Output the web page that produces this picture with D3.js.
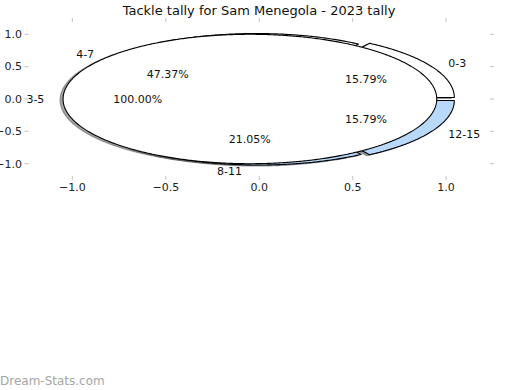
<!DOCTYPE html>
<html><head><meta charset="utf-8">
<script src="https://cdn.jsdelivr.net/npm/d3@7/dist/d3.min.js"></script>
<style>body{margin:0;background:#fff;} svg{display:block;font-family:"DejaVu Sans",sans-serif;}</style>
</head><body>
<svg id="c" width="520" height="390"></svg>
<script>
// ---- data ----
const title = "Tackle tally for Sam Menegola - 2023 tally";
const categories = ["0-3", "4-7", "8-11", "12-15"];
const values = [3, 9, 4, 3];
const explode = [0.05, 0.02, 0.02, 0.05];
const overlayCategories = ["3-5"];
const overlayValues = [1];
const overlayExplode = [0.05];
const xTicks = [-1.0, -0.5, 0.0, 0.5, 1.0];
const yTicks = [-1.0, -0.5, 0.0, 0.5, 1.0];
const watermark = "Dream-Stats.com";

// ---- styles ----
const colors = ["#ffffff", "#ffffff", "#b9d9fb", "#b9d9fb"];
const overlayColors = ["#ffffff"];

const svg = d3.select("#c");
const x = d3.scaleLinear().domain([-1.235, 1.235]).range([28.5, 490]);
const y = d3.scaleLinear().domain([-1.19, 1.19]).range([176, 22]);
const fmt = d3.format(".2f");
const line = d3.line().x(p => x(p[0])).y(p => y(p[1]));
const shadowOff = -0.016;

function buildWedges(cats, vals, expl, cols) {
  const total = d3.sum(vals);
  const arcs = d3.pie().sort(null).startAngle(0).endAngle(2 * Math.PI)(vals);
  return arcs.map((a, i) => {
    const t1 = a.startAngle, t2 = a.endAngle, tm = (t1 + t2) / 2;
    const cx = expl[i] * Math.cos(tm), cy = expl[i] * Math.sin(tm);
    const full = Math.abs(t2 - t1 - 2 * Math.PI) < 1e-9;
    const n = Math.max(4, Math.ceil((t2 - t1) / (Math.PI / 360)));
    const pts = [];
    if (!full) pts.push([cx, cy]);
    for (let k = 0; k <= n; k++) {
      const t = t1 + (t2 - t1) * k / n;
      pts.push([cx + Math.cos(t), cy + Math.sin(t)]);
    }
    if (!full) pts.push([cx, cy]);
    return {label: cats[i], pct: fmt(vals[i] / total * 100) + "%", tm, cx, cy, pts, color: cols[i]};
  });
}

const pie1 = buildWedges(categories, values, explode, colors);
const pie2 = buildWedges(overlayCategories, overlayValues, overlayExplode, overlayColors);
const all = pie1.concat(pie2);

// shadows (drawn below all wedges)
const gShadow = svg.append("g");
all.forEach(w => {
  const c = d3.color(w.color);
  const sc = d3.rgb(c.r * 0.3, c.g * 0.3, c.b * 0.3);
  gShadow.append("path")
    .attr("d", line(w.pts.map(p => [p[0] + shadowOff, p[1] + shadowOff])) + "Z")
    .attr("fill", sc).attr("stroke", sc).attr("stroke-width", 1.1)
    .attr("fill-opacity", 0.5).attr("stroke-opacity", 0.5);
});
// wedges
const gW = svg.append("g");
all.forEach(w => {
  gW.append("path")
    .attr("d", line(w.pts) + "Z")
    .attr("fill", w.color).attr("stroke", "#000").attr("stroke-width", 1.1)
    .attr("stroke-linejoin", "round");
});

// axes ticks (no spines)
const tickCol = "#c8c8c8";
const gA = svg.append("g").attr("font-size", 11).attr("fill", "#222");
xTicks.forEach(v => {
  gA.append("line").attr("x1", x(v)).attr("x2", x(v)).attr("y1", 176).attr("y2", 180).attr("stroke", tickCol).attr("stroke-width", 1.1);
  gA.append("line").attr("x1", x(v)).attr("x2", x(v)).attr("y1", 22).attr("y2", 18).attr("stroke", tickCol).attr("stroke-width", 1.1);
  gA.append("text").attr("x", x(v)).attr("y", 191).attr("text-anchor", "middle")
    .text(d3.format(".1f")(v).replace("-", "\u2212"));
});
yTicks.forEach(v => {
  gA.append("line").attr("x1", 28.5).attr("x2", 24.5).attr("y1", y(v)).attr("y2", y(v)).attr("stroke", tickCol).attr("stroke-width", 1.1);
  gA.append("line").attr("x1", 490).attr("x2", 494).attr("y1", y(v)).attr("y2", y(v)).attr("stroke", tickCol).attr("stroke-width", 1.1);
  gA.append("text").attr("x", 22).attr("y", y(v)).attr("dy", "0.35em").attr("text-anchor", "end")
    .text(d3.format(".1f")(v).replace("-", "\u2212"));
});

// labels
const gT = svg.append("g").attr("font-size", 11).attr("fill", "#111");
all.forEach(w => {
  const lx = w.cx + 1.1 * Math.cos(w.tm), ly = w.cy + 1.1 * Math.sin(w.tm);
  gT.append("text").attr("x", x(lx)).attr("y", y(ly)).attr("dy", "0.35em")
    .attr("text-anchor", lx > 0 ? "start" : "end").text(w.label);
  const px = w.cx + 0.6 * Math.cos(w.tm), py = w.cy + 0.6 * Math.sin(w.tm);
  gT.append("text").attr("x", x(px)).attr("y", y(py)).attr("dy", "0.35em")
    .attr("text-anchor", "middle").text(w.pct);
});

svg.append("text").attr("x", 259).attr("y", 15).attr("text-anchor", "middle")
  .attr("font-size", 13).attr("fill", "#111").text(title);
svg.append("text").attr("x", 0).attr("y", 385).attr("font-size", 12)
  .attr("fill", "#a6a6a6").text(watermark);
</script>
</body></html>
